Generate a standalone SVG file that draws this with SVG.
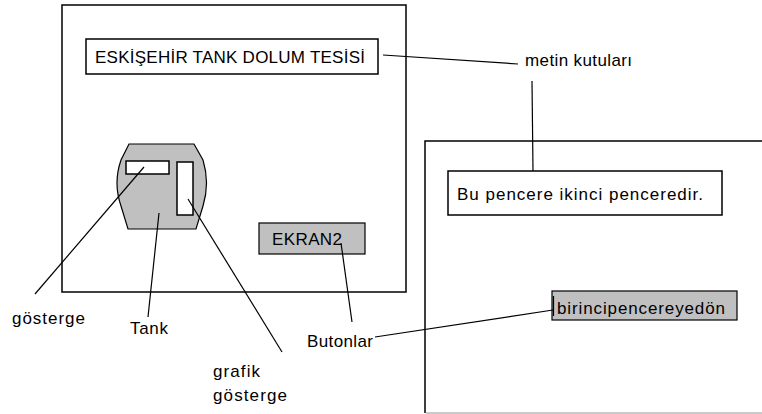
<svg xmlns="http://www.w3.org/2000/svg" width="762" height="414" viewBox="0 0 762 414">
<style>
text{font-family:"Liberation Sans",Arial,sans-serif;font-size:17px;fill:#000}
.box{fill:#fff;stroke:#000;stroke-width:1.5}
.btn{fill:#c0c0c0;stroke:#000;stroke-width:1.2}
.win{fill:none;stroke:#000;stroke-width:1.5}
.ln{fill:none;stroke:#000;stroke-width:1.2}
</style>
<rect width="762" height="414" fill="#fff"/>
<g id="window1">
<rect class="win" x="62" y="5" width="344" height="287"/>
</g>
<g id="window2">
<path class="win" d="M762,141 H425 V413"/>
<line x1="426" y1="413" x2="762" y2="413" stroke="#b8b8b8" stroke-width="1.5"/>
</g>
<g id="title">
<rect class="box" x="86" y="39" width="292" height="35"/>
<text x="95" y="63" textLength="270" lengthAdjust="spacing">ESKİŞEHİR TANK DOLUM TESİSİ</text>
</g>
<g id="tank">
<path class="btn" d="M129,144 H194 L203,160 Q210,183 203,206 L196,229 H128 L121,206 Q113,183 121,160 Z"/>
<rect class="box" x="126" y="161" width="43" height="13"/>
<rect class="box" x="177" y="162" width="16" height="53"/>
</g>
<g id="ekran2">
<rect class="btn" x="259" y="223" width="106" height="31"/>
<text x="272" y="245" textLength="70" lengthAdjust="spacing">EKRAN2</text>
</g>
<g id="textbox2">
<rect class="box" x="448" y="171" width="274" height="44"/>
<text x="457" y="200" textLength="246" lengthAdjust="spacing">Bu pencere ikinci penceredir.</text>
</g>
<g id="button2">
<rect class="btn" x="552" y="291" width="185" height="29"/>
<text x="557" y="314" textLength="168" lengthAdjust="spacing">birincipencereyedön</text>
</g>
<g id="labels">
<text x="525" y="66" textLength="107" lengthAdjust="spacing">metin kutuları</text>
<text x="12" y="324" textLength="73" lengthAdjust="spacing">gösterge</text>
<text x="130" y="334" textLength="38" lengthAdjust="spacing">Tank</text>
<text x="307" y="347" textLength="66" lengthAdjust="spacing">Butonlar</text>
<text x="213" y="377" textLength="47" lengthAdjust="spacing">grafik</text>
<text x="213" y="401" textLength="74" lengthAdjust="spacing">gösterge</text>
</g>
<g id="connectors">
<line class="ln" x1="383" y1="55" x2="518" y2="64"/>
<line class="ln" x1="532" y1="81" x2="533" y2="171"/>
<line class="ln" x1="144" y1="167" x2="35" y2="294"/>
<line class="ln" x1="159" y1="213" x2="148" y2="317"/>
<line class="ln" x1="188" y1="199" x2="282" y2="352"/>
<line class="ln" x1="341" y1="243" x2="352" y2="322"/>
<line class="ln" x1="375" y1="337" x2="553" y2="310"/>
<line class="ln" x1="553.5" y1="296" x2="553.5" y2="316"/>
</g>
</svg>
